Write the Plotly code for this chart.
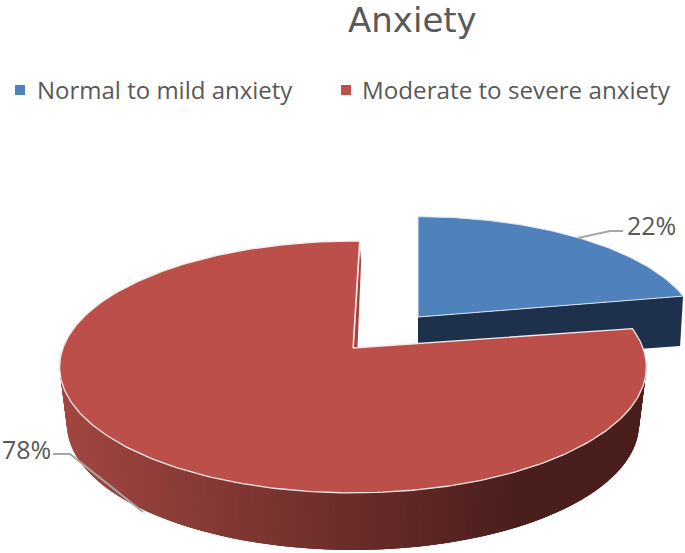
import numpy as np
import plotly.graph_objects as go

CATEGORIES = ["Normal to mild anxiety", "Moderate to severe anxiety"]
VALUES = [22, 78]
LABELS = ["22%", "78%"]
TITLE = "Anxiety"

BLUE, RED, NAVY = "#4f81bd", "#bd4f4b", "#1d314c"
W, H = 685, 553
A, B, K = 290.0, 123.0, 0.151


def project(apex, t_deg, rx=1.0, ry=1.0):
    t = np.radians(t_deg)
    u, v = np.sin(t), -np.cos(t)
    w = 1 - K * v * ry
    return apex[0] + A * rx * u / w, apex[1] + B * ry * v / w


def poly(x, y, fill, line="rgba(0,0,0,0)", lw=0):
    return go.Scatter(x=list(x), y=list(y), mode="lines", fill="toself", fillcolor=fill,
                      line=dict(color=line, width=lw), hoverinfo="skip", showlegend=False)


def mix(c0, c1, f):
    return "rgb(%d,%d,%d)" % tuple(round(a + (b - a) * f) for a, b in zip(c0, c1))


split = VALUES[0] / sum(VALUES) * 360
fig = go.Figure()

# Blue slice
ba = (418, 317)
ex, ey = project(ba, split, 0.955, 0.93)
fig.add_trace(poly([ba[0], ex, ex - 3, ba[0]], [ba[1], ey, ey + 50, ba[1] + 48], NAVY))
ts = np.linspace(0, split, 80)
bx, by = project(ba, ts, 0.955, 0.93)
fig.add_trace(poly(np.r_[ba[0], bx, ba[0]], np.r_[ba[1], by, ba[1]], BLUE, "#dfe6f0", 1))

# Red slice: shaded outer wall
ra = (353, 348)
DEPTH = 57
ROT = 1.5
edges = np.linspace(split + ROT, 360 + ROT, 281)
for i in range(len(edges) - 3):
    seg = np.linspace(edges[i], edges[i + 3], 5)
    x, y = project(ra, seg)
    if np.cos(np.radians(seg[1])) > 0.12:
        continue
    lx = ra[0] + (x - ra[0]) * 0.975
    ly = y + DEPTH
    f = np.clip((x[1] - 60) / 460, 0, 1)
    c = mix((162, 70, 65), (74, 30, 28), f)
    fig.add_trace(poly(np.r_[x, lx[::-1]], np.r_[y, ly[::-1]], c))

# Red slice: top face and inner sliver
rx_, ry_ = project(ra, edges)
fig.add_trace(poly(np.r_[ra[0], rx_, ra[0]], np.r_[ra[1], ry_, ra[1]], RED, "#f2e9e6", 1.3))
tipx, tipy = rx_[-1], ry_[-1]
fig.add_trace(poly([tipx + 0.5, tipx + 1.5, ra[0] + 4.5, ra[0] + 1], [tipy + 8, tipy + 20, ra[1] - 1, ra[1] - 1], "#a8403c"))

# Leader lines
for xs, ys in [([578, 610, 623], [238, 231, 231]), ([53, 70, 143], [454, 454, 512])]:
    fig.add_trace(go.Scatter(x=xs, y=ys, mode="lines", line=dict(color="#a6a6a6", width=2),
                             hoverinfo="skip", showlegend=False))

# Legend
fig.add_trace(go.Scatter(x=[20, 346], y=[90, 90], mode="markers",
                         marker=dict(symbol="square", size=10, color=[BLUE, RED]),
                         hoverinfo="skip", showlegend=False))

GRAY = "#595959"
ann = [
    (346, 20, TITLE, 34, "DejaVu Sans"),
    (35, 89, CATEGORIES[0], 24, "Open Sans"),
    (360, 89, CATEGORIES[1], 24.2, "Open Sans"),
    (625, 225, LABELS[0], 25, "Open Sans"),
    (0, 449, LABELS[1], 25, "Open Sans"),
]
for x, y, s, size, family in ann:
    fig.add_annotation(x=x, y=y, text=s, showarrow=False, xanchor="left", yanchor="middle",
                       xref="x", yref="y", font=dict(family=family, size=size, color=GRAY))

fig.update_layout(width=W, height=H, margin=dict(l=0, r=0, t=0, b=0), showlegend=False,
                  paper_bgcolor="white", plot_bgcolor="white",
                  xaxis=dict(range=[0, W], visible=False, fixedrange=True),
                  yaxis=dict(range=[H, 0], visible=False, fixedrange=True))
fig.write_html("out.html", config=dict(displayModeBar=False),
               post_script="document.body.style.margin='0';document.documentElement.style.overflow='hidden';")
